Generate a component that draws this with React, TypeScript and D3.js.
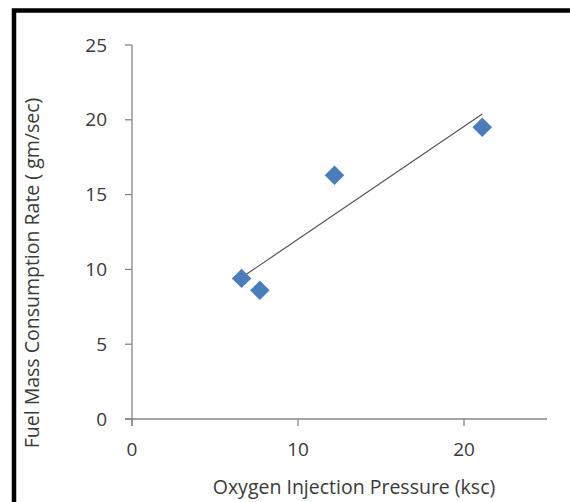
import React from 'react';
import * as d3 from 'd3';

// values
const pressure = [6.6, 7.7, 12.2, 21.1];
const fuelRate = [9.4, 8.6, 16.3, 19.5];
const xTicks = [0, 10, 20];
const yTicks = [0, 5, 10, 15, 20, 25];

const W = 570;
const H = 502;
const margin = { top: 45, right: 23, bottom: 83, left: 132 };

const App: React.FC = () => {
  const x = d3.scaleLinear().domain([0, 25]).range([margin.left, W - margin.right]);
  const y = d3.scaleLinear().domain([0, 25]).range([H - margin.bottom, margin.top]);

  // least squares trendline
  const mx = d3.mean(pressure) as number;
  const my = d3.mean(fuelRate) as number;
  const sxy = d3.sum(pressure, (p, i) => (p - mx) * (fuelRate[i] - my));
  const sxx = d3.sum(pressure, p => (p - mx) * (p - mx));
  const slope = sxy / sxx;
  const icpt = my - slope * mx;
  const [x0, x1] = d3.extent(pressure) as [number, number];
  const trend = d3.line<number>().x(d => x(d)).y(d => y(icpt + slope * d))([x0, x1]) ?? '';

  const diamond = d3.symbol().type(d3.symbolSquare).size(190)() ?? '';
  const font = "'Open Sans', 'Noto Sans', sans-serif";
  const axisColor = '#868686';
  const textColor = '#3a3a3a';

  return (
    <svg width={W} height={H} style={{ position: 'absolute', left: 0, top: 0, background: '#fff' }}>
      {/* frame */}
      <rect x={14} y={10.5} width={W + 20} height={H + 20} fill="none" stroke="#000" strokeWidth={4.5} />

      {/* y axis */}
      <line x1={x(0)} x2={x(0)} y1={y(25)} y2={y(0) + 7} stroke={axisColor} strokeWidth={1.3} />
      {yTicks.map(t => (
        <g key={'y' + t}>
          <line x1={x(0) - 7} x2={x(0)} y1={y(t)} y2={y(t)} stroke={axisColor} strokeWidth={1.3} />
          <text x={107} y={y(t)} dy="0.35em" textAnchor="end" fontSize={19} fontFamily={font} fill={textColor}>
            {t}
          </text>
        </g>
      ))}

      {/* x axis */}
      <line x1={x(0) - 7} x2={x(25)} y1={y(0)} y2={y(0)} stroke={axisColor} strokeWidth={1.3} />
      {xTicks.map(t => (
        <g key={'x' + t}>
          <line x1={x(t)} x2={x(t)} y1={y(0)} y2={y(0) + 7} stroke={axisColor} strokeWidth={1.3} />
          <text x={x(t)} y={449} dy="0.35em" textAnchor="middle" fontSize={19} fontFamily={font} fill={textColor}>
            {t}
          </text>
        </g>
      ))}

      {/* trendline */}
      <path d={trend} fill="none" stroke="#555" strokeWidth={1.2} />

      {/* points */}
      {pressure.map((p, i) => (
        <path
          key={i}
          d={diamond}
          transform={`translate(${x(p)},${y(fuelRate[i])}) rotate(45)`}
          fill="#4A7EBB"
        />
      ))}

      {/* axis titles */}
      <text x={354} y={487} dy="0.35em" textAnchor="middle" fontSize={19.5} fontFamily={font} fill={textColor}>
        Oxygen Injection Pressure (ksc)
      </text>
      <text
        transform="translate(32,273) rotate(-90)"
        dy="0.35em"
        textAnchor="middle"
        fontSize={19.5}
        fontFamily={font}
        fill={textColor}
      >
        Fuel Mass Consumption Rate ( gm/sec)
      </text>
    </svg>
  );
};

export default App;
